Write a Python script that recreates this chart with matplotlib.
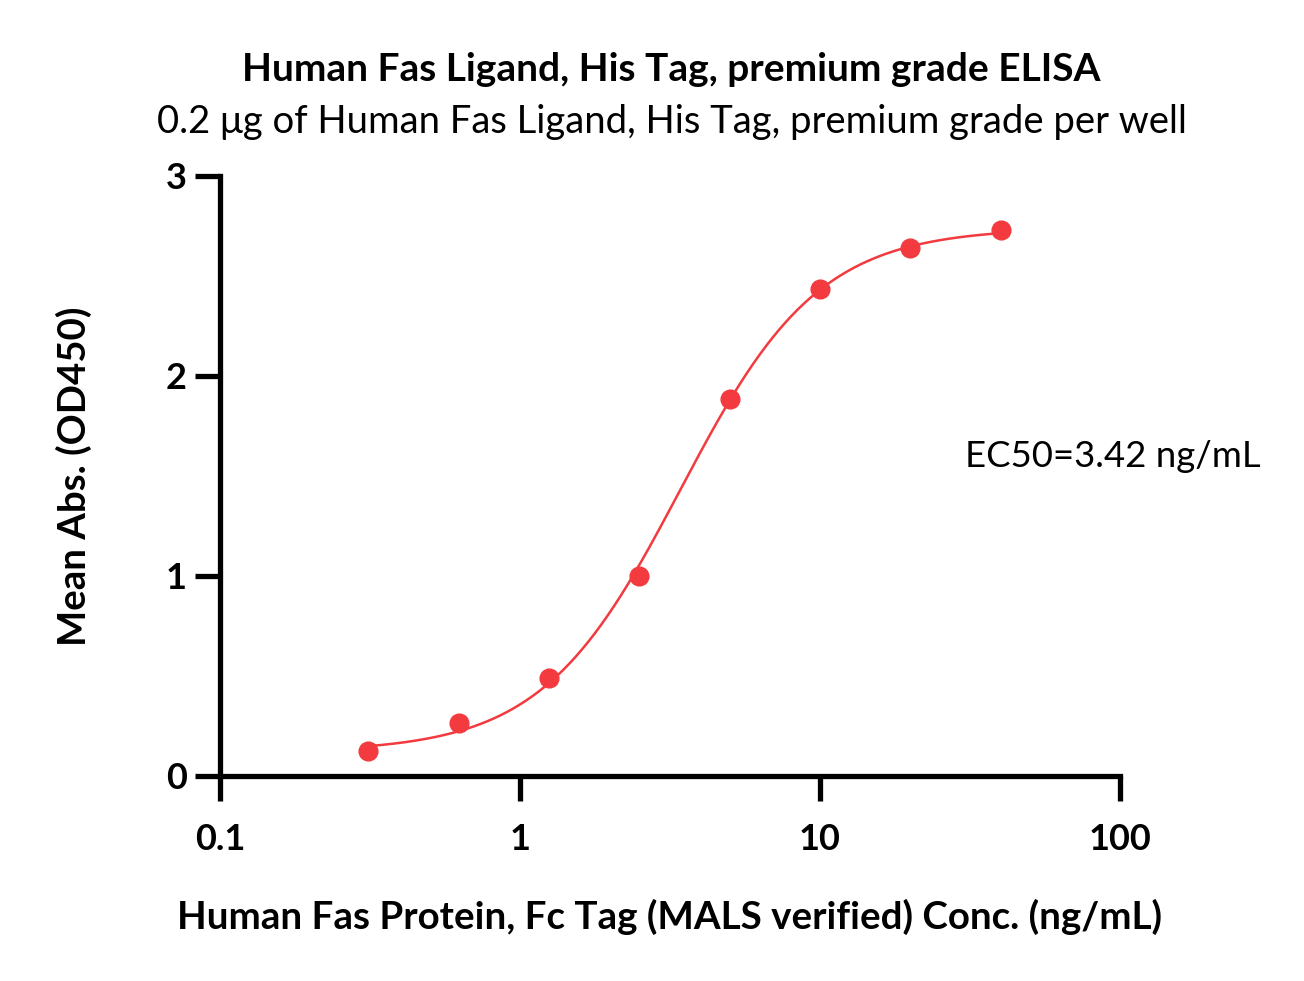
import numpy as np
import matplotlib
matplotlib.use("Agg")
import matplotlib.pyplot as plt
from matplotlib.ticker import FixedLocator, NullLocator

plt.rcParams['font.family'] = ['Lato', 'DejaVu Sans']

# dados
conc = [0.3125, 0.625, 1.25, 2.5, 5, 10, 20, 40]
absorb = [0.125, 0.265, 0.49, 1.0, 1.885, 2.435, 2.64, 2.73]
ec50 = 3.42
xticks = [0.1, 1, 10, 100]
xtick_labels = ["0.1", "1", "10", "100"]
yticks = [0, 1, 2, 3]

cor = '#F23A3F'

# ajuste 4PL simples (grid search, ec50 fixo)
x = np.array(conc)
y = np.array(absorb)
melhor = None
for b in np.linspace(0.0, 0.2, 41):
    for t in np.linspace(2.6, 2.9, 31):
        for h in np.linspace(1.2, 2.6, 57):
            pred = b + (t - b) / (1 + (ec50 / x) ** h)
            err = np.sum((pred - y) ** 2)
            if melhor is None or err < melhor[0]:
                melhor = (err, b, t, h)
_, b, t, h = melhor
xs = np.logspace(np.log10(conc[0]), np.log10(conc[-1]), 300)
ys = b + (t - b) / (1 + (ec50 / xs) ** h)

fig = plt.figure(figsize=(13.04, 9.81), dpi=100)
ax = fig.add_axes([0.1687, 0.2090, 0.8589 - 0.1687, 0.8206 - 0.2090])

ax.plot(xs, ys, color=cor, lw=1.8)
ax.plot(conc, absorb, 'o', color=cor, ms=13.5)

ax.set_xscale('log')
ax.set_xlim(0.1, 100)
ax.set_ylim(0, 3)
ax.xaxis.set_major_locator(FixedLocator(xticks))
ax.xaxis.set_minor_locator(NullLocator())
ax.set_xticklabels(xtick_labels)
ax.set_yticks(yticks)

for s in ['top', 'right']:
    ax.spines[s].set_visible(False)
for s in ['left', 'bottom']:
    ax.spines[s].set_linewidth(3.8)
ax.tick_params(width=3.8, length=18, labelsize=26)
ax.tick_params(axis='x', pad=16)
ax.tick_params(axis='y', pad=6)
for lab in ax.get_xticklabels() + ax.get_yticklabels():
    lab.set_fontweight('bold')

ax.set_xlabel("Human Fas Protein, Fc Tag (MALS verified) Conc. (ng/mL)",
              fontsize=27.7, fontweight='bold', labelpad=31)
ax.set_ylabel("Mean Abs. (OD450)", fontsize=27.6, fontweight='bold', labelpad=53)

fig.text(0.515, 0.917, "Human Fas Ligand, His Tag, premium grade ELISA",
         ha='center', fontsize=28, fontweight='bold')
fig.text(0.515, 0.864, "0.2 \u03bcg of Human Fas Ligand, His Tag, premium grade per well",
         ha='center', fontsize=27.5)
ax.text(0.828, 0.515, "EC50=3.42 ng/mL", transform=ax.transAxes, ha='left', fontsize=26.3)

fig.savefig("out.png", dpi=100)
